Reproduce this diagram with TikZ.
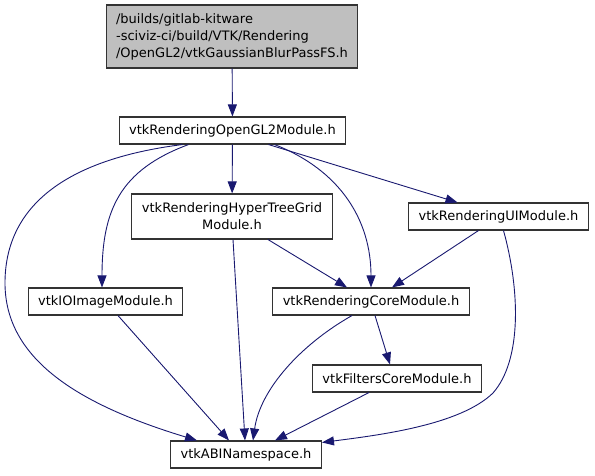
\documentclass[tikz,border=0pt]{standalone}
\usepackage{fontspec}
\setmainfont{DejaVu Sans}
\usetikzlibrary{arrows.meta, calc}
\definecolor{edgeBlue}{HTML}{191970}
\definecolor{rootGrey}{HTML}{BFBFBF}
\definecolor{boxLine}{HTML}{333333}

\begin{document}
\begin{tikzpicture}[x=1bp, y=-1bp,
   hdr/.style={rectangle, draw=boxLine, line width=1.1bp, fill=white,
               minimum height=27bp, inner xsep=10bp, inner ysep=0pt,
               font=\fontsize{13bp}{17bp}\selectfont, align=center},
   root/.style={hdr, fill=rootGrey, align=left, minimum height=63bp},
   dep/.style={draw=edgeBlue, line width=0.9bp,
               -{Triangle[length=12bp, width=9bp]}}]
\useasboundingbox (0,0) rectangle (595,476);

% headers
\node[root] (src) at (232,36.5)
  {/builds/gitlab-kitware\\-sciviz-ci/build/VTK/Rendering\\/OpenGL2/vtkGaussianBlurPassFS.h};
\node[hdr] (gl2) at (232.5,130.5) {vtkRenderingOpenGL2Module.h};
\node[hdr, minimum height=45bp] (htg) at (232,216.5)
  {vtkRenderingHyperTreeGrid\\Module.h};
\node[hdr] (ui) at (498.5,216.5) {vtkRenderingUIModule.h};
\node[hdr] (io) at (105.5,301.5) {vtkIOImageModule.h};
\node[hdr] (core) at (371,301.5) {vtkRenderingCoreModule.h};
\node[hdr] (filt) at (397,378.5) {vtkFiltersCoreModule.h};
\node[hdr] (abi) at (246,454.5) {vtkABINamespace.h};

% include edges
\draw[dep] (src) -- (gl2);
\draw[dep] (gl2) -- (htg);
\draw[dep] ($(gl2.south)+(36,0)$) -- ($(ui.north)+(-41,0)$);
\draw[dep] ($(gl2.south)+(42,0)$) .. controls (340,170) and (371,220) .. (core.north);
\draw[dep] ($(gl2.south)+(-44,0)$) .. controls (120,170) and (102,210) .. ($(io.north)+(-3.5,0)$);
\draw[dep] ($(gl2.south)+(-50,0)$) .. controls (60,160) and (5,210) .. (5,283)
   .. controls (5,360) and (80,405) .. ($(abi.north)+(-49,0)$);
\draw[dep] ($(htg.south)+(1,0)$) -- ($(abi.north)+(-1,0)$);
\draw[dep] ($(htg.south)+(36,0)$) -- ($(core.north)+(-24,0)$);
\draw[dep] ($(ui.south)+(-20,0)$) -- ($(core.north)+(21,0)$);
\draw[dep] ($(ui.south)+(5,0)$) .. controls (520,290) and (522,360) .. (493,393)
   .. controls (460,425) and (380,435) .. ($(abi.north east)+(0,2)$);
\draw[dep] ($(io.south)+(12.5,0)$) -- ($(abi.north)+(-17,0)$);
\draw[dep] ($(core.south)+(-19,0)$) .. controls (300,345) and (260,390) .. ($(abi.north)+(7,0)$);
\draw[dep] ($(core.south)+(4,0)$) -- ($(filt.north)+(-7,0)$);
\draw[dep] ($(filt.south)+(-28,0)$) -- ($(abi.north)+(29,0)$);
\end{tikzpicture}
\end{document}
